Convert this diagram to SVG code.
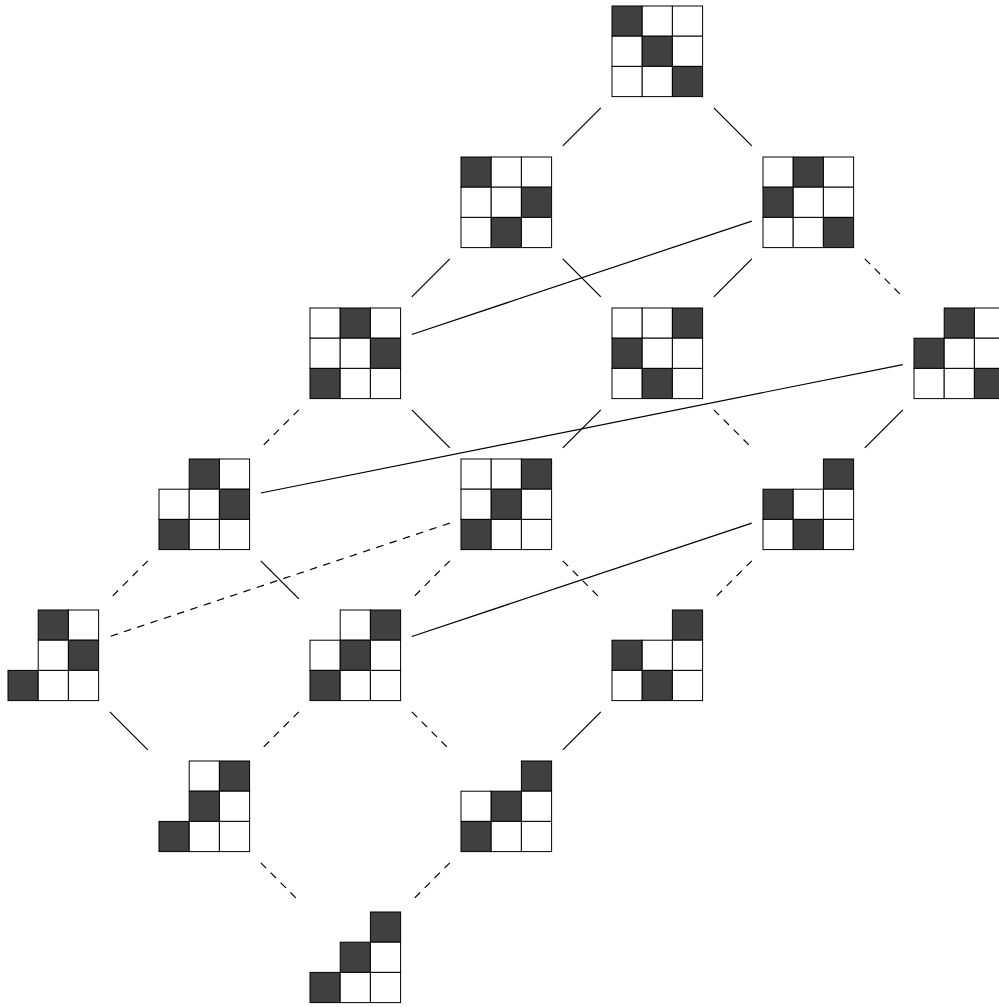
<svg xmlns="http://www.w3.org/2000/svg" width="999" height="1007" viewBox="0 0 999 1007">
<style>
.w{fill:#fff;stroke:#000;stroke-width:1}
.k{fill:#404040;stroke:#000;stroke-width:1}
#edges line{stroke:#000;stroke-width:1.2;fill:none}
#edges line.d{stroke-dasharray:7.5,6.5}
</style>
<rect width="999" height="1007" fill="#fff"/>
<g id="edges">
<line x1="600.8" y1="107.8" x2="562.8" y2="145.8"/>
<line x1="713.8" y1="107.8" x2="751.8" y2="145.8"/>
<line x1="449.8" y1="258.8" x2="411.8" y2="296.8"/>
<line x1="562.8" y1="258.8" x2="600.8" y2="296.8"/>
<line x1="751.8" y1="221.1" x2="411.8" y2="334.5"/>
<line x1="751.8" y1="258.8" x2="713.8" y2="296.8"/>
<line class="d" x1="864.8" y1="258.8" x2="902.8" y2="296.8"/>
<line class="d" x1="298.8" y1="409.8" x2="260.8" y2="447.8"/>
<line x1="411.8" y1="409.8" x2="449.8" y2="447.8"/>
<line x1="600.8" y1="409.8" x2="562.8" y2="447.8"/>
<line class="d" x1="713.8" y1="409.8" x2="751.8" y2="447.8"/>
<line x1="902.8" y1="364.6" x2="260.8" y2="493.0"/>
<line x1="902.8" y1="409.8" x2="864.8" y2="447.8"/>
<line class="d" x1="147.8" y1="560.8" x2="109.8" y2="598.8"/>
<line x1="260.8" y1="560.8" x2="298.8" y2="598.8"/>
<line class="d" x1="449.8" y1="523.1" x2="109.8" y2="636.5"/>
<line class="d" x1="449.8" y1="560.8" x2="411.8" y2="598.8"/>
<line class="d" x1="562.8" y1="560.8" x2="600.8" y2="598.8"/>
<line x1="751.8" y1="523.1" x2="411.8" y2="636.5"/>
<line class="d" x1="751.8" y1="560.8" x2="713.8" y2="598.8"/>
<line x1="109.8" y1="711.8" x2="147.8" y2="749.8"/>
<line class="d" x1="298.8" y1="711.8" x2="260.8" y2="749.8"/>
<line class="d" x1="411.8" y1="711.8" x2="449.8" y2="749.8"/>
<line x1="600.8" y1="711.8" x2="562.8" y2="749.8"/>
<line class="d" x1="260.8" y1="862.8" x2="298.8" y2="900.8"/>
<line class="d" x1="449.8" y1="862.8" x2="411.8" y2="900.8"/>
</g>
<g id="nA" transform="translate(612,6)">
<rect class="k" x="0" y="0" width="30.2" height="30.2"/><rect class="w" x="30.2" y="0" width="30.2" height="30.2"/><rect class="w" x="60.4" y="0" width="30.2" height="30.2"/>
<rect class="w" x="0" y="30.2" width="30.2" height="30.2"/><rect class="k" x="30.2" y="30.2" width="30.2" height="30.2"/><rect class="w" x="60.4" y="30.2" width="30.2" height="30.2"/>
<rect class="w" x="0" y="60.4" width="30.2" height="30.2"/><rect class="w" x="30.2" y="60.4" width="30.2" height="30.2"/><rect class="k" x="60.4" y="60.4" width="30.2" height="30.2"/>
</g>
<g id="nB" transform="translate(461,157)">
<rect class="k" x="0" y="0" width="30.2" height="30.2"/><rect class="w" x="30.2" y="0" width="30.2" height="30.2"/><rect class="w" x="60.4" y="0" width="30.2" height="30.2"/>
<rect class="w" x="0" y="30.2" width="30.2" height="30.2"/><rect class="w" x="30.2" y="30.2" width="30.2" height="30.2"/><rect class="k" x="60.4" y="30.2" width="30.2" height="30.2"/>
<rect class="w" x="0" y="60.4" width="30.2" height="30.2"/><rect class="k" x="30.2" y="60.4" width="30.2" height="30.2"/><rect class="w" x="60.4" y="60.4" width="30.2" height="30.2"/>
</g>
<g id="nC" transform="translate(763,157)">
<rect class="w" x="0" y="0" width="30.2" height="30.2"/><rect class="k" x="30.2" y="0" width="30.2" height="30.2"/><rect class="w" x="60.4" y="0" width="30.2" height="30.2"/>
<rect class="k" x="0" y="30.2" width="30.2" height="30.2"/><rect class="w" x="30.2" y="30.2" width="30.2" height="30.2"/><rect class="w" x="60.4" y="30.2" width="30.2" height="30.2"/>
<rect class="w" x="0" y="60.4" width="30.2" height="30.2"/><rect class="w" x="30.2" y="60.4" width="30.2" height="30.2"/><rect class="k" x="60.4" y="60.4" width="30.2" height="30.2"/>
</g>
<g id="nD" transform="translate(310,308)">
<rect class="w" x="0" y="0" width="30.2" height="30.2"/><rect class="k" x="30.2" y="0" width="30.2" height="30.2"/><rect class="w" x="60.4" y="0" width="30.2" height="30.2"/>
<rect class="w" x="0" y="30.2" width="30.2" height="30.2"/><rect class="w" x="30.2" y="30.2" width="30.2" height="30.2"/><rect class="k" x="60.4" y="30.2" width="30.2" height="30.2"/>
<rect class="k" x="0" y="60.4" width="30.2" height="30.2"/><rect class="w" x="30.2" y="60.4" width="30.2" height="30.2"/><rect class="w" x="60.4" y="60.4" width="30.2" height="30.2"/>
</g>
<g id="nE" transform="translate(612,308)">
<rect class="w" x="0" y="0" width="30.2" height="30.2"/><rect class="w" x="30.2" y="0" width="30.2" height="30.2"/><rect class="k" x="60.4" y="0" width="30.2" height="30.2"/>
<rect class="k" x="0" y="30.2" width="30.2" height="30.2"/><rect class="w" x="30.2" y="30.2" width="30.2" height="30.2"/><rect class="w" x="60.4" y="30.2" width="30.2" height="30.2"/>
<rect class="w" x="0" y="60.4" width="30.2" height="30.2"/><rect class="k" x="30.2" y="60.4" width="30.2" height="30.2"/><rect class="w" x="60.4" y="60.4" width="30.2" height="30.2"/>
</g>
<g id="nF" transform="translate(914,308)">
<rect class="k" x="30.2" y="0" width="30.2" height="30.2"/><rect class="w" x="60.4" y="0" width="30.2" height="30.2"/>
<rect class="k" x="0" y="30.2" width="30.2" height="30.2"/><rect class="w" x="30.2" y="30.2" width="30.2" height="30.2"/><rect class="w" x="60.4" y="30.2" width="30.2" height="30.2"/>
<rect class="w" x="0" y="60.4" width="30.2" height="30.2"/><rect class="w" x="30.2" y="60.4" width="30.2" height="30.2"/><rect class="k" x="60.4" y="60.4" width="30.2" height="30.2"/>
</g>
<g id="nG" transform="translate(159,459)">
<rect class="k" x="30.2" y="0" width="30.2" height="30.2"/><rect class="w" x="60.4" y="0" width="30.2" height="30.2"/>
<rect class="w" x="0" y="30.2" width="30.2" height="30.2"/><rect class="w" x="30.2" y="30.2" width="30.2" height="30.2"/><rect class="k" x="60.4" y="30.2" width="30.2" height="30.2"/>
<rect class="k" x="0" y="60.4" width="30.2" height="30.2"/><rect class="w" x="30.2" y="60.4" width="30.2" height="30.2"/><rect class="w" x="60.4" y="60.4" width="30.2" height="30.2"/>
</g>
<g id="nH" transform="translate(461,459)">
<rect class="w" x="0" y="0" width="30.2" height="30.2"/><rect class="w" x="30.2" y="0" width="30.2" height="30.2"/><rect class="k" x="60.4" y="0" width="30.2" height="30.2"/>
<rect class="w" x="0" y="30.2" width="30.2" height="30.2"/><rect class="k" x="30.2" y="30.2" width="30.2" height="30.2"/><rect class="w" x="60.4" y="30.2" width="30.2" height="30.2"/>
<rect class="k" x="0" y="60.4" width="30.2" height="30.2"/><rect class="w" x="30.2" y="60.4" width="30.2" height="30.2"/><rect class="w" x="60.4" y="60.4" width="30.2" height="30.2"/>
</g>
<g id="nI" transform="translate(763,459)">
<rect class="k" x="60.4" y="0" width="30.2" height="30.2"/>
<rect class="k" x="0" y="30.2" width="30.2" height="30.2"/><rect class="w" x="30.2" y="30.2" width="30.2" height="30.2"/><rect class="w" x="60.4" y="30.2" width="30.2" height="30.2"/>
<rect class="w" x="0" y="60.4" width="30.2" height="30.2"/><rect class="k" x="30.2" y="60.4" width="30.2" height="30.2"/><rect class="w" x="60.4" y="60.4" width="30.2" height="30.2"/>
</g>
<g id="nJ" transform="translate(8,610)">
<rect class="k" x="30.2" y="0" width="30.2" height="30.2"/><rect class="w" x="60.4" y="0" width="30.2" height="30.2"/>
<rect class="w" x="30.2" y="30.2" width="30.2" height="30.2"/><rect class="k" x="60.4" y="30.2" width="30.2" height="30.2"/>
<rect class="k" x="0" y="60.4" width="30.2" height="30.2"/><rect class="w" x="30.2" y="60.4" width="30.2" height="30.2"/><rect class="w" x="60.4" y="60.4" width="30.2" height="30.2"/>
</g>
<g id="nK" transform="translate(310,610)">
<rect class="w" x="30.2" y="0" width="30.2" height="30.2"/><rect class="k" x="60.4" y="0" width="30.2" height="30.2"/>
<rect class="w" x="0" y="30.2" width="30.2" height="30.2"/><rect class="k" x="30.2" y="30.2" width="30.2" height="30.2"/><rect class="w" x="60.4" y="30.2" width="30.2" height="30.2"/>
<rect class="k" x="0" y="60.4" width="30.2" height="30.2"/><rect class="w" x="30.2" y="60.4" width="30.2" height="30.2"/><rect class="w" x="60.4" y="60.4" width="30.2" height="30.2"/>
</g>
<g id="nL" transform="translate(612,610)">
<rect class="k" x="60.4" y="0" width="30.2" height="30.2"/>
<rect class="k" x="0" y="30.2" width="30.2" height="30.2"/><rect class="w" x="30.2" y="30.2" width="30.2" height="30.2"/><rect class="w" x="60.4" y="30.2" width="30.2" height="30.2"/>
<rect class="w" x="0" y="60.4" width="30.2" height="30.2"/><rect class="k" x="30.2" y="60.4" width="30.2" height="30.2"/><rect class="w" x="60.4" y="60.4" width="30.2" height="30.2"/>
</g>
<g id="nM" transform="translate(159,761)">
<rect class="w" x="30.2" y="0" width="30.2" height="30.2"/><rect class="k" x="60.4" y="0" width="30.2" height="30.2"/>
<rect class="k" x="30.2" y="30.2" width="30.2" height="30.2"/><rect class="w" x="60.4" y="30.2" width="30.2" height="30.2"/>
<rect class="k" x="0" y="60.4" width="30.2" height="30.2"/><rect class="w" x="30.2" y="60.4" width="30.2" height="30.2"/><rect class="w" x="60.4" y="60.4" width="30.2" height="30.2"/>
</g>
<g id="nN" transform="translate(461,761)">
<rect class="k" x="60.4" y="0" width="30.2" height="30.2"/>
<rect class="w" x="0" y="30.2" width="30.2" height="30.2"/><rect class="k" x="30.2" y="30.2" width="30.2" height="30.2"/><rect class="w" x="60.4" y="30.2" width="30.2" height="30.2"/>
<rect class="k" x="0" y="60.4" width="30.2" height="30.2"/><rect class="w" x="30.2" y="60.4" width="30.2" height="30.2"/><rect class="w" x="60.4" y="60.4" width="30.2" height="30.2"/>
</g>
<g id="nO" transform="translate(310,912)">
<rect class="k" x="60.4" y="0" width="30.2" height="30.2"/>
<rect class="k" x="30.2" y="30.2" width="30.2" height="30.2"/><rect class="w" x="60.4" y="30.2" width="30.2" height="30.2"/>
<rect class="k" x="0" y="60.4" width="30.2" height="30.2"/><rect class="w" x="30.2" y="60.4" width="30.2" height="30.2"/><rect class="w" x="60.4" y="60.4" width="30.2" height="30.2"/>
</g>
</svg>
